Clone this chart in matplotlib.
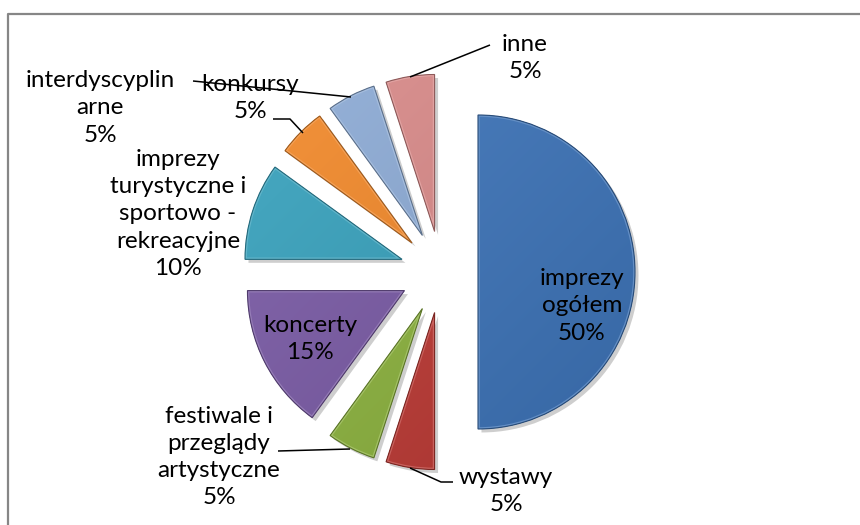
import numpy as np
import matplotlib
matplotlib.use("Agg")
import matplotlib.pyplot as plt
import matplotlib.patheffects as pe
from matplotlib.patches import Wedge
from matplotlib.colors import to_rgb

# data, clockwise from 12 o'clock
categories = ['imprezy\nogółem', 'wystawy', 'festiwale i\nprzeglądy\nartystyczne',
              'koncerty', 'imprezy\nturystyczne i\nsportowo -\nrekreacyjne',
              'konkursy', 'interdyscyplin\narne', 'inne']
shares = [50, 5, 5, 15, 10, 5, 5, 5]
colors = ['#3D73B7', '#BB3A35', '#8CB23F', '#7A5BA5', '#39A2BD', '#F28A2C', '#8EACD6', '#D98B8A']

W, H = 860, 525
center = (441, H - 272)
radius = 157
# explode is in the same units as radius (pixels here)
explode = [37] + [41] * 7

# label layout (pixel coords, y from top)
label_pos = [(582, 306), (506, 491), (219, 457), (310, 339), (178, 214),
             (250, 98), (100, 108), (525, 58)]
leaders = {
    1: [(410, 468), (441, 482), (453, 482)],
    2: [(278, 451), (350, 449)],
    5: [(273, 119), (290, 119), (303, 133)],
    6: [(193, 81), (351, 97)],
    7: [(410, 77), (490, 45)],
}


def px(x, y):
    return x, H - y


def mix(c, other, t):
    c = np.array(to_rgb(c))
    return c * (1 - t) + np.array(other) * t


fig = plt.figure(figsize=(W / 100, H / 100), dpi=100)
ax = fig.add_axes([0, 0, 1, 1])

wedges, _ = ax.pie(shares, colors=colors, startangle=90, counterclock=False,
                   explode=explode, center=center, radius=radius,
                   wedgeprops=dict(linewidth=0))
ax.set_aspect('equal')
ax.axis('off')

# diagonal gradient for the fake bevel look
n = 200
gx, gy = np.meshgrid(np.linspace(0, 1, n), np.linspace(0, 1, n))
t = np.clip((gx + (1 - gy)) / 2, 0, 1)  # 0 top-left, 1 bottom-right

for w, c in zip(wedges, colors):
    w.set_path_effects([pe.SimplePatchShadow(offset=(2.5, -2.5), alpha=0.35, shadow_rgbFace='0.45'),
                        pe.Normal()])
    cx, cy = w.center
    r = w.r
    light = mix(c, (1, 1, 1), 0.07)
    dark = mix(c, (0, 0, 0), 0.10)
    img = light[None, None, :] * (1 - t[..., None]) + dark[None, None, :] * t[..., None]
    im = ax.imshow(img, extent=[cx - r, cx + r, cy - r, cy + r], origin='lower',
                   zorder=w.get_zorder() + 0.1, interpolation='bilinear')
    im.set_clip_path(w)
    # inner highlight rim
    rim = Wedge((cx, cy), r, w.theta1, w.theta2, fill=False,
                edgecolor=mix(c, (1, 1, 1), 0.2), linewidth=2.6,
                zorder=w.get_zorder() + 0.2)
    ax.add_patch(rim)
    rim.set_clip_path(w)
    edge = Wedge((cx, cy), r, w.theta1, w.theta2, fill=False,
                 edgecolor=mix(c, (0, 0, 0), 0.35), linewidth=0.8,
                 zorder=w.get_zorder() + 0.3)
    ax.add_patch(edge)
ax.set_xlim(0, W)
ax.set_ylim(0, H)

for i, (lab, val) in enumerate(zip(categories, shares)):
    x, y = px(*label_pos[i])
    ax.text(x, y, f'{lab}\n{val}%', ha='center', va='center', multialignment='center',
            fontsize=17.5, family='Lato', color='black', linespacing=1.36, zorder=10)

for i, pts in leaders.items():
    xs, ys = zip(*[px(x, y) for x, y in pts])
    ax.plot(xs, ys, color='black', linewidth=1.1, zorder=11, solid_capstyle='butt')

# chart-area border (cropped on the right and bottom)
ax.plot([8, 8, W + 5], [-5, H - 14, H - 14], color='#868686', linewidth=1.6,
        zorder=12, clip_on=False)

fig.savefig('out.png', dpi=100)
